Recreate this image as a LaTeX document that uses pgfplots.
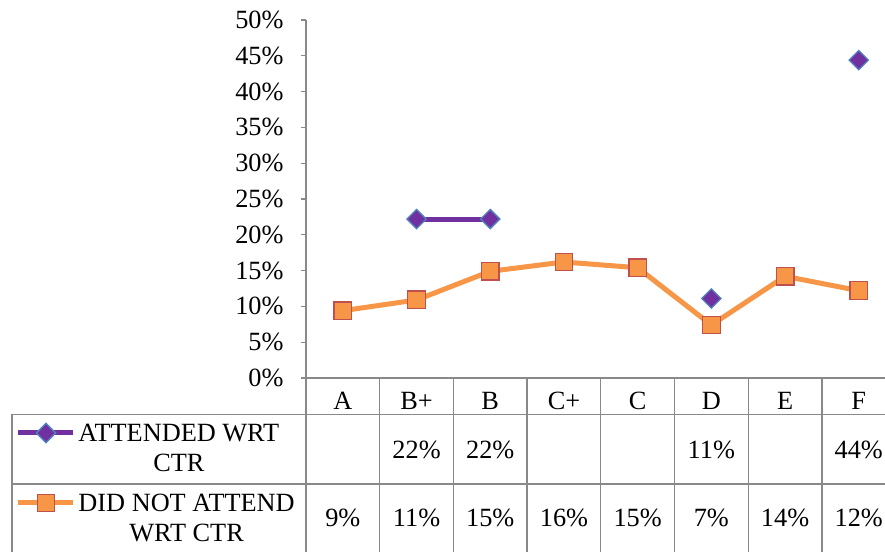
\documentclass[border=0pt]{standalone}
\usepackage{pgfplots}
\pgfplotsset{compat=1.18}
\usepackage{fontspec}
\setmainfont{Liberation Serif}
\definecolor{tgray}{RGB}{137,137,137}
\definecolor{org}{RGB}{247,150,70}
\definecolor{orgedge}{RGB}{192,80,77}
\definecolor{pur}{RGB}{112,48,160}
\definecolor{puredge}{RGB}{79,129,189}
\begin{document}
\begin{tikzpicture}[x=1bp,y=1bp,font=\fontsize{26.4}{30}\selectfont]
\useasboundingbox (0,0) rectangle (885,552);
\begin{axis}[
 at={(306bp,174bp)}, anchor=south west,
 scale only axis, width=589.6bp, height=358bp,
 xmin=-0.5, xmax=7.5, ymin=0, ymax=50,
 axis x line*=bottom, axis y line*=left,
 axis line style={tgray, line width=1.3bp, -},
 xtick={0,...,7}, xticklabels={A,B+,B,C+,C,D,E,F},
 x tick style={draw=none},
 xticklabel style={anchor=base, yshift=-27bp, font=\fontsize{26.4}{30}\selectfont},
 ytick={0,5,...,50},
 yticklabel={\pgfmathprintnumber{\tick}\%},
 yticklabel style={font=\fontsize{26.4}{30}\selectfont, xshift=-14bp},
 y tick style={tgray, line width=1.3bp},
 tick align=outside, major tick length=5bp,
 /pgf/number format/assume math mode=true,
 clip=false,
 unbounded coords=jump,
 legend cell align=left,
 legend style={at={(axis description cs:-0.4919,-0.09497)}, anchor=north west, draw=none, fill=none, inner sep=0pt, outer sep=0pt, row sep=0pt, column sep=0bp, nodes={inner sep=0pt, anchor=base west}, font=\fontsize{26.4}{30}\selectfont},
 legend image code/.code={\draw[mark repeat=2,mark phase=2] plot coordinates {(0bp,9bp)(27.5bp,9bp)(55bp,9bp)}; \path[draw=none,fill=none] (0bp,-40bp) rectangle (60bp,30bp);},
]
\addplot[pur, line width=5bp, mark=square*, mark size=6.8bp, mark options={rotate=45, fill=pur, draw=puredge, line width=1.3bp}] coordinates {(0,nan)(1,22.2)(2,22.2)(3,nan)(4,nan)(5,11.1)(6,nan)(7,44.4)};
\addlegendentry{\begin{tabular}[t]{@{}c@{}}ATTENDED WRT\\CTR\end{tabular}}
\addplot[org, line width=5bp, mark=square*, mark size=8.8bp, mark options={fill=org, draw=orgedge, line width=1.3bp}] coordinates {(0,9.4)(1,10.9)(2,14.9)(3,16.2)(4,15.4)(5,7.4)(6,14.2)(7,12.2)};
\addlegendentry{\begin{tabular}[t]{@{}c@{}}DID NOT ATTEND\\WRT CTR\end{tabular}}
\end{axis}
\draw[tgray, line width=1.3bp] (12,137.5) -- (900,137.5);
\draw[tgray, line width=1.3bp] (12,68) -- (900,68);
\draw[tgray, line width=1.3bp] (12,137.5) -- (12,-5);
\foreach \k in {0,...,8} {\draw[tgray, line width=1.3bp] (306+73.7*\k,174) -- (306+73.7*\k,-5);}
\foreach \v/\k in {22/1,22/2,11/5,44/7} {\node[anchor=base, inner sep=0pt] at (342.85+73.7*\k,93) {\v\%};}
\foreach \v/\k in {9/0,11/1,15/2,16/3,15/4,7/5,14/6,12/7} {\node[anchor=base, inner sep=0pt] at (342.85+73.7*\k,25) {\v\%};}
\end{tikzpicture}
\end{document}
